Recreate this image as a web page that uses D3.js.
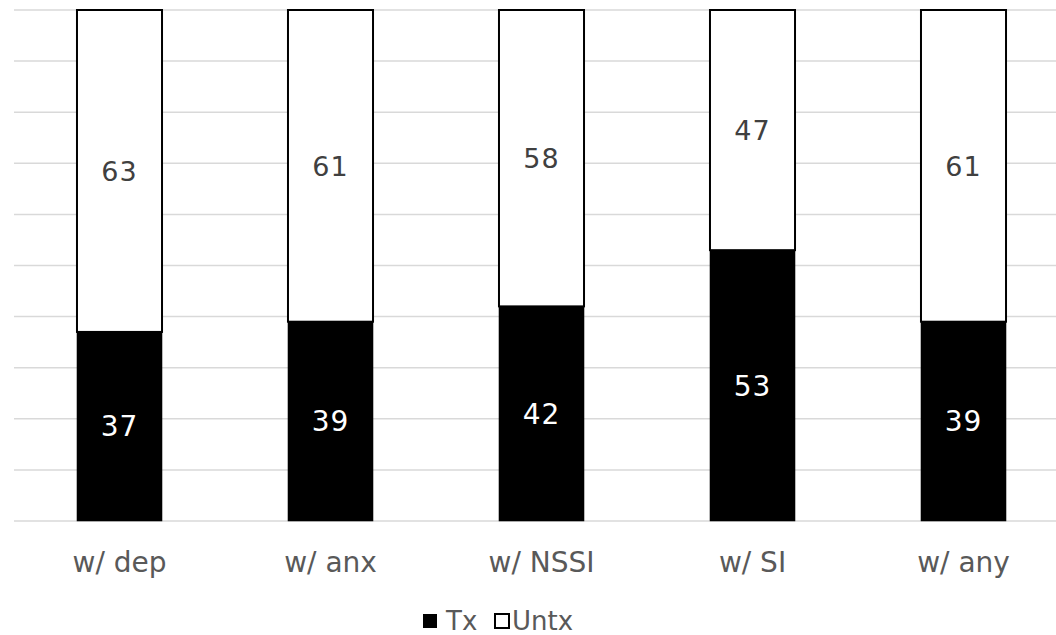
<!DOCTYPE html>
<html><head><meta charset="utf-8">
<script src="https://cdn.jsdelivr.net/npm/d3@7"></script>
<style>body{margin:0;background:#fff}svg{display:block}</style>
</head><body>
<svg id="c" width="1056" height="635"></svg>
<script>
const categories = ["w/ dep", "w/ anx", "w/ NSSI", "w/ SI", "w/ any"];
const txValues = [37, 39, 42, 53, 39];
const untxValues = [63, 61, 58, 47, 61];
const seriesNames = ["Tx", "Untx"];
const yTicks = [0,10,20,30,40,50,60,70,80,90,100];

(function(){
const svg = d3.select("#c");
const FONT = "DejaVu Sans, Verdana, sans-serif";
const pLeft = 14, pRight = 1069, pTop = 10, pBottom = 521;
const x = d3.scaleBand().domain(categories).range([pLeft, pRight]).paddingInner(0.597).paddingOuter(0.2985);
const y = d3.scaleLinear().domain([0, 100]).range([pBottom, pTop]);

svg.append("g").selectAll("line").data(yTicks).join("line")
  .attr("x1", pLeft).attr("x2", pRight)
  .attr("y1", d => y(d)).attr("y2", d => y(d))
  .attr("stroke", "#d9d9d9").attr("stroke-width", 1.5);

const rows = categories.map((c, i) => ({cat: c, Tx: txValues[i], Untx: untxValues[i]}));
const stack = d3.stack().keys(seriesNames)(rows);
const fills = {Tx: "#000", Untx: "#fff"};

stack.forEach(s => {
  svg.append("g").selectAll("rect").data(s).join("rect")
    .attr("x", d => x(d.data.cat))
    .attr("width", x.bandwidth())
    .attr("y", d => y(d[1]))
    .attr("height", d => y(d[0]) - y(d[1]))
    .attr("fill", fills[s.key])
    .attr("stroke", "#000")
    .attr("stroke-width", s.key === "Untx" ? 2 : 0.5);
});

stack.forEach(s => {
  svg.append("g").selectAll("text").data(s).join("text")
    .attr("x", d => x(d.data.cat) + x.bandwidth() / 2)
    .attr("y", d => (y(d[0]) + y(d[1])) / 2 + 10)
    .attr("text-anchor", "middle")
    .attr("font-family", FONT)
    .attr("font-size", s.key === "Tx" ? 28 : 27)
    .attr("letter-spacing", 1)
    .attr("fill", s.key === "Tx" ? "#fff" : "#404040")
    .text(d => d.data[s.key]);
});

const xAxis = svg.append("g").attr("transform", `translate(0,${pBottom})`)
  .call(d3.axisBottom(x).tickSize(0).tickPadding(0));
xAxis.select(".domain").remove();
xAxis.selectAll("text")
  .attr("dy", null).attr("y", 51)
  .attr("font-family", FONT)
  .attr("font-size", 28).attr("fill", "#595959");

const legend = svg.append("g");
const legItems = [{name: "Tx", x: 423, tx: 446}, {name: "Untx", x: 495, tx: 512}];
legItems.forEach(it => {
  legend.append("rect").attr("x", it.x).attr("y", 614).attr("width", 14).attr("height", 14)
    .attr("fill", fills[it.name]).attr("stroke", "#000").attr("stroke-width", it.name === "Untx" ? 2 : 0);
  legend.append("text").attr("x", it.tx).attr("y", 630)
    .attr("font-family", FONT)
    .attr("font-size", 26).attr("fill", "#595959").text(it.name);
});
})();
</script>
</body></html>
